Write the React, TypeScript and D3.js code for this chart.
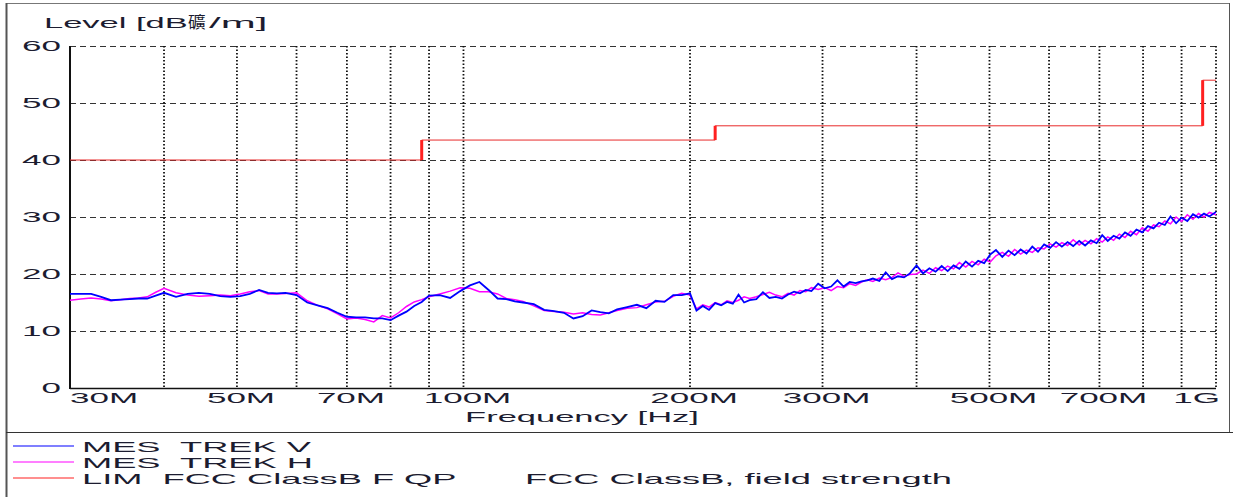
import React, { useEffect, useRef } from 'react'
import * as d3 from 'd3'

// frequency in MHz, level in dBuV/m
const freqMHz = [
  30, 31, 32, 33, 34, 35, 36, 37, 38, 39, 40,
  41.5, 43, 44.5, 46, 47.5, 49, 50.5, 52, 53.5, 55, 56.5, 58,
  60, 62, 64, 66, 68, 70, 72, 74, 76, 78, 80, 82, 84, 86, 88,
  90, 93, 96, 99, 102, 105, 108, 111, 114, 117, 120,
  124, 128, 132, 136, 140, 144, 148, 152, 156, 160,
  165, 170, 175, 180, 185, 190, 195,
  200,
  204, 208, 212, 216, 220, 224, 228, 232, 236, 240,
  245, 250, 255, 260, 265, 270, 275, 280, 285, 290,
  296, 302, 308, 314, 320, 326, 332, 338, 344, 350,
  357, 364, 371, 378, 385, 392, 400,
  408, 416, 424, 432, 440, 448, 456,
  465, 474, 483, 492, 501, 510,
  520, 530, 540, 550, 560, 570, 580,
  591, 602, 613, 624, 635, 646, 658, 670, 682, 694,
  706, 718, 731, 744, 757, 770, 784, 798, 812, 826,
  840, 855, 870, 885, 900, 916, 932, 948, 964, 980,
  1000,
]

const levelV = [
  16.5, 16.5, 16.5, 16.0, 15.4, 15.5, 15.6, 15.7, 15.7, 16.2, 16.7,
  16.0, 16.5, 16.7, 16.5, 16.1, 16.0, 16.1, 16.5, 17.2, 16.7, 16.6, 16.7,
  16.3, 15.0, 14.5, 14.0, 13.2, 12.5, 12.4, 12.4, 12.2, 12.2, 11.9, 12.7, 13.4, 14.4, 15.1,
  16.2, 16.3, 15.8, 17.0, 18.0, 18.6, 17.2, 15.7, 15.6, 15.2, 15.0,
  14.7, 13.7, 13.5, 13.2, 12.2, 12.6, 13.6, 13.3, 13.1, 13.8,
  14.2, 14.6, 14.0, 15.3, 15.1, 16.3, 16.3,
  16.6,
  13.6, 14.4, 13.7, 14.9, 14.5, 15.1, 14.8, 16.4, 15.0, 15.4,
  15.6, 16.8, 15.8, 16.0, 15.7, 16.4, 16.9, 16.6, 17.2, 17.0,
  18.3, 17.5, 17.8, 18.9, 17.8, 18.6, 18.4, 18.7, 18.9, 19.2,
  18.8, 20.3, 19.1, 19.6, 19.4, 20.1, 21.5,
  20.1, 21.0, 20.4, 21.4, 20.5, 21.5, 20.9,
  22.2, 21.3, 22.3, 21.9, 23.4, 24.2,
  23.0, 24.1, 23.3, 24.3, 23.6, 24.8, 23.9,
  25.2, 24.6, 25.6, 24.8, 25.6, 24.9, 25.8, 25.0, 25.9, 25.4,
  26.8, 25.8, 26.7, 26.2, 27.3, 26.7, 27.8, 27.3, 28.4, 28.0,
  29.0, 28.6, 30.1, 28.9, 29.9, 29.3, 30.5, 29.9, 30.6, 30.1,
  30.9,
]

const levelH = [
  15.4, 15.6, 15.8, 15.6, 15.3, 15.5, 15.7, 15.8, 16.0, 16.8, 17.5,
  16.7, 16.3, 16.1, 16.2, 16.3, 16.2, 16.5, 16.9, 17.1, 16.5, 16.5, 16.6,
  16.7, 15.3, 14.5, 13.9, 13.0, 12.1, 12.3, 12.0, 11.6, 12.7, 12.3, 13.2, 14.3, 15.1, 15.5,
  16.0, 16.5, 17.0, 17.6, 17.5, 16.9, 16.9, 16.5, 15.7, 15.5, 15.2,
  14.4, 13.6, 13.4, 13.3, 13.0, 13.2, 12.9, 12.8, 13.2, 13.6,
  14.0, 14.1, 14.6, 15.1, 15.2, 16.1, 16.6,
  16.3,
  13.9, 14.6, 14.2, 15.0, 14.6, 15.3, 15.0, 15.4, 16.0, 15.7,
  16.0, 16.4, 16.8, 16.3, 16.0, 16.6, 16.3, 17.1, 16.9, 17.6,
  17.3, 17.6, 17.1, 17.8, 17.6, 18.3, 18.0, 18.6, 19.0, 18.7,
  19.3, 19.0, 19.4, 20.2, 19.6, 19.9, 20.0,
  20.7, 20.1, 21.1, 20.6, 21.4, 20.9, 22.0,
  21.2, 22.2, 21.6, 22.6, 22.1, 23.2,
  23.8, 23.1, 24.3, 23.5, 24.2, 23.8, 24.6,
  24.4, 25.3, 24.7, 25.5, 25.0, 26.0, 25.1, 25.9, 25.3, 26.2,
  25.6, 26.5, 25.9, 27.0, 26.4, 27.5, 26.9, 28.1, 27.5, 28.6,
  28.3, 29.3, 28.8, 30.0, 29.2, 30.4, 29.6, 30.6, 30.0, 30.8,
  30.4,
]

// FCC class B limit, steps
const limitFreqMHz = [30, 88, 216, 960, 1000]
const limitLevel = [40, 43.5, 46, 54, 54]

const gridFreqMHz = [40, 50, 60, 70, 80, 90, 100, 200, 300, 400, 500, 600, 700, 800, 900, 1000]
const tickFreqMHz = [30, 50, 70, 100, 200, 300, 500, 700, 1000]
const tickLabels = ['30M', '50M', '70M', '100M', '200M', '300M', '500M', '700M', '1G']
const levelTicks = [0, 10, 20, 30, 40, 50, 60]

const legendNames = ['MES  TREK V', 'MES  TREK H', 'LIM  FCC ClassB F QP']
const legendColors = ['#0000ff', '#ff00ff', '#ff2020']

export default function App() {
  const ref = useRef<SVGSVGElement>(null)

  useEffect(() => {
    const svg = d3.select(ref.current)
    svg.selectAll('*').remove()
    const font = '"Liberation Sans", Arial, sans-serif'
    const textColor = '#1c1c30'

    const x = d3.scaleLog().domain([30, 1000]).range([70, 1216])
    const y = d3.scaleLinear().domain([0, 60]).range([388, 46])

    const label = (txt, px, py, anchor, size, sx, fam = font) => {
      svg.append('text')
        .attr('transform', `translate(${px},${py}) scale(${sx},1)`)
        .attr('text-anchor', anchor)
        .attr('font-family', fam)
        .attr('font-size', size)
        .attr('fill', textColor)
        .style('white-space', 'pre')
        .text(txt)
    }

    // frame
    svg.append('rect').attr('width', 1233).attr('height', 497).attr('fill', '#fff')
    svg.append('line').attr('x1', 6).attr('x2', 1229).attr('y1', 3.5).attr('y2', 3.5)
      .attr('stroke', '#777').attr('stroke-width', 1)
    svg.append('line').attr('x1', 6.5).attr('x2', 6.5).attr('y1', 3).attr('y2', 497)
      .attr('stroke', '#555').attr('stroke-width', 2)
    svg.append('line').attr('x1', 1229.5).attr('x2', 1229.5).attr('y1', 3).attr('y2', 432)
      .attr('stroke', '#555').attr('stroke-width', 1)
    svg.append('line').attr('x1', 6).attr('x2', 1233).attr('y1', 432.5).attr('y2', 432.5)
      .attr('stroke', '#333').attr('stroke-width', 1)

    // grid
    svg.append('g').selectAll('line')
      .data(levelTicks.filter(d => d > 0))
      .enter()
      .append('line')
      .attr('x1', 70).attr('x2', 1216)
      .attr('y1', d => Math.round(y(d)) + 0.5).attr('y2', d => Math.round(y(d)) + 0.5)
      .attr('stroke', '#333').attr('stroke-dasharray', '6,4')
    svg.append('g').selectAll('line')
      .data(gridFreqMHz)
      .enter()
      .append('line')
      .attr('x1', d => x(d)).attr('x2', d => x(d))
      .attr('y1', 46).attr('y2', 388)
      .attr('stroke', '#111').attr('stroke-width', 1.8).attr('stroke-dasharray', '1.5,2')

    // axes
    svg.append('line').attr('x1', 70).attr('x2', 70).attr('y1', 46).attr('y2', 389)
      .attr('stroke', '#111').attr('stroke-width', 2)
    svg.append('line').attr('x1', 70).attr('x2', 1216).attr('y1', 388.5).attr('y2', 388.5)
      .attr('stroke', '#111').attr('stroke-width', 1.5)

    levelTicks.forEach(d => label(String(d), 61, y(d) + 5, 'end', 14, 2.5))
    tickFreqMHz.forEach((d, i) => {
      if (i === 0) label(tickLabels[i], x(d), 403, 'start', 14, 2.5)
      else if (i === tickFreqMHz.length - 1) label(tickLabels[i], x(d) + 4, 403, 'end', 14, 2.5)
      else label(tickLabels[i], x(d) + 4, 403, 'middle', 14, 2.5)
    })
    label('Frequency [Hz]', 582, 422, 'middle', 15, 2.3)

    // title
    label('Level [dB', 44, 28, 'start', 15, 2.3)
    label('礦', 188, 28, 'start', 16, 1.1, '"Noto Sans CJK TC", "Noto Sans CJK SC", sans-serif')
    label('/m]', 209, 28, 'start', 15, 2.8)

    // limit
    const limitLine = d3.line<number>()
      .x((d, i) => x(limitFreqMHz[i]))
      .y(d => y(d))
      .curve(d3.curveStepAfter)
    svg.append('path')
      .attr('d', limitLine(limitLevel))
      .attr('fill', 'none').attr('stroke', '#e82a2a').attr('stroke-width', 1)
    svg.append('g').selectAll('line')
      .data(d3.range(1, limitLevel.length - 1))
      .enter()
      .append('line')
      .attr('x1', i => x(limitFreqMHz[i])).attr('x2', i => x(limitFreqMHz[i]))
      .attr('y1', i => y(limitLevel[i - 1])).attr('y2', i => y(limitLevel[i]))
      .attr('stroke', '#ff2020').attr('stroke-width', 3)

    // traces
    const trace = d3.line<number>()
      .x((d, i) => x(freqMHz[i]))
      .y(d => y(d))
    svg.append('path').attr('d', trace(levelH))
      .attr('fill', 'none').attr('stroke', '#ff00ff').attr('stroke-width', 1.5)
    svg.append('path').attr('d', trace(levelV))
      .attr('fill', 'none').attr('stroke', '#0000ff').attr('stroke-width', 1.8)

    // legend
    legendNames.forEach((name, i) => {
      const ly = 446 + i * 16
      svg.append('line').attr('x1', 13).attr('x2', 74).attr('y1', ly).attr('y2', ly)
        .attr('stroke', legendColors[i]).attr('stroke-width', 1.2)
      label(name, 82, ly + 5.5, 'start', 14.5, 2.5)
    })
    label('FCC ClassB, field strength', 525, 483.5, 'start', 14.5, 2.5)
  }, [])

  return (
    <svg ref={ref} width={1233} height={497}
      style={{ position: 'absolute', left: 0, top: 0, fontFamily: 'sans-serif' }} />
  )
}
